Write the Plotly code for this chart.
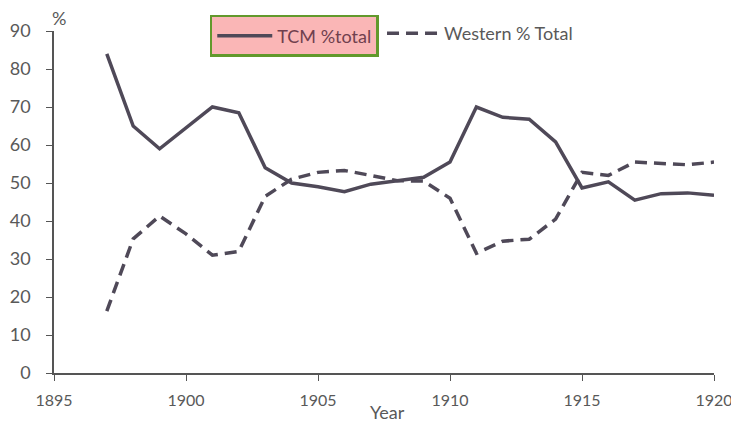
import plotly.graph_objects as go

years = list(range(1897, 1921))
tcm_total = [84, 65, 59, 64.5, 70, 68.5, 54, 50, 49, 47.7, 49.7, 50.6, 51.5, 55.5,
             70, 67.3, 66.8, 60.8, 48.7, 50.3, 45.5, 47.2, 47.4, 46.8]
western_total = [16.3, 35.3, 41.3, 36.6, 31, 32, 46.5, 51, 52.8, 53.3, 52, 50.6, 50.5, 46,
                 31.5, 34.7, 35.2, 40.5, 52.8, 52, 55.5, 55.2, 54.8, 55.5]
x_ticks = [1895, 1900, 1905, 1910, 1915, 1920]
y_ticks = [0, 10, 20, 30, 40, 50, 60, 70, 80, 90]

line_color = "#4f4958"
text_color = "#595959"
font_family = "Lato, 'Open Sans', sans-serif"

fig = go.Figure()
fig.add_trace(go.Scatter(
    x=years, y=tcm_total, mode="lines", name="TCM %total",
    line=dict(color=line_color, width=3.5), legend="legend", showlegend=True,
))
fig.add_trace(go.Scatter(
    x=years, y=western_total, mode="lines", name="Western % Total",
    line=dict(color=line_color, width=3.5, dash="12px,7px"), legend="legend2", showlegend=True,
))

fig.update_layout(
    width=739, height=424,
    margin=dict(l=46, r=33, t=23, b=59, autoexpand=False),
    paper_bgcolor="white", plot_bgcolor="white",
    showlegend=True,
    font=dict(family=font_family, color=text_color, size=16),
    legend=dict(
        orientation="h", x=0.236, y=1.047, xanchor="left", yanchor="top",
        bgcolor="#fab6b6", bordercolor="#62992c", borderwidth=2.5,
        font=dict(size=18, color="#70404e"), itemwidth=55,
    ),
    legend2=dict(
        orientation="h", x=0.497, y=1.047, xanchor="left", yanchor="top",
        bgcolor="rgba(0,0,0,0)", font=dict(size=18, color=text_color),
        itemwidth=52,
    ),
    xaxis=dict(
        range=[1895, 1920], tickvals=x_ticks, ticktext=[str(v) for v in x_ticks],
        showgrid=False, zeroline=False, showline=True, linecolor="#555555", linewidth=1.5,
        ticks="outside", ticklen=6, tickcolor="#555555", automargin=False,
        ticklabelstandoff=6,
        tickfont=dict(size=16, color=text_color),
    ),
    yaxis=dict(
        range=[0, 90], tickvals=y_ticks,
        showgrid=False, zeroline=False, showline=True, linecolor="#555555", linewidth=1.5,
        ticks="outside", ticklen=6, tickcolor="#555555", automargin=False,
        ticklabelstandoff=12,
        tickfont=dict(size=18, color=text_color),
    ),
    annotations=[
        dict(text="%", xref="paper", yref="paper", x=0.008, y=1.038,
             xanchor="center", yanchor="middle", showarrow=False,
             font=dict(size=18, color=text_color)),
        dict(text="Year", xref="paper", yref="paper", x=0.506, y=-0.114,
             xanchor="center", yanchor="middle", showarrow=False,
             font=dict(size=18, color=text_color)),
    ],
)

fig.write_html("out.html")
